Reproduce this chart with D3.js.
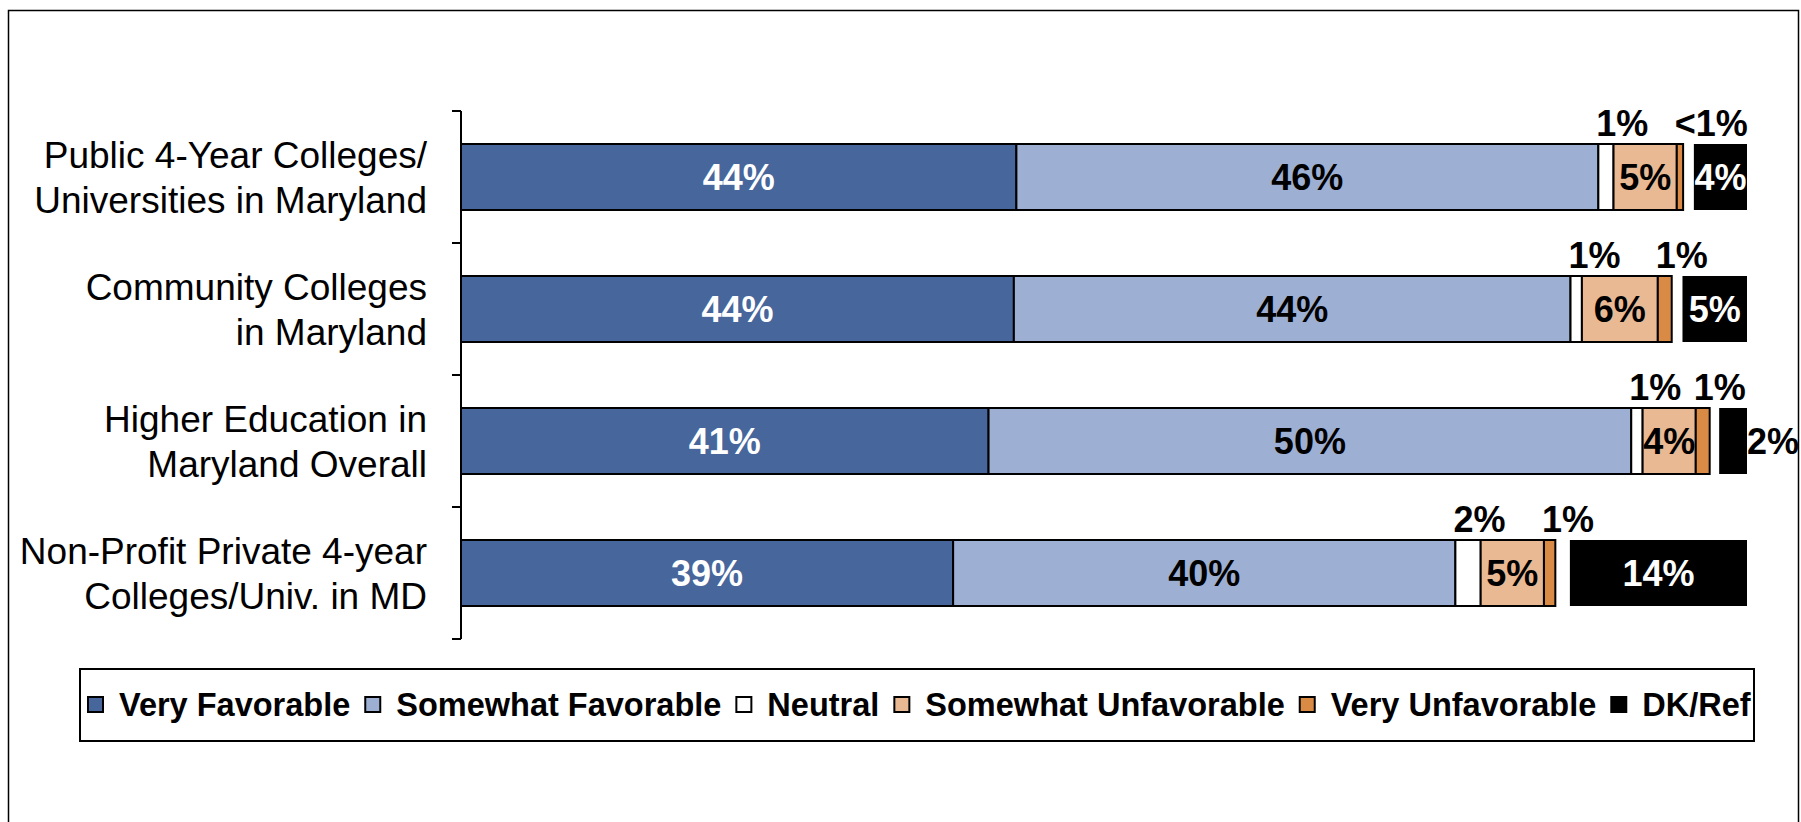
<!DOCTYPE html>
<html><head><meta charset="utf-8">
<script src="https://cdn.jsdelivr.net/npm/d3@7"></script>
<style>
html,body{margin:0;padding:0;background:#fff;}
svg{display:block;font-family:Arial,"Liberation Sans",Helvetica,sans-serif;}
</style>
</head><body>
<svg id="chart" width="1801" height="822"></svg>
<script>
// ---------- DATA ----------
const categories = [
  "Public 4-Year Colleges/|Universities in Maryland",
  "Community Colleges|in Maryland",
  "Higher Education in|Maryland Overall",
  "Non-Profit Private 4-year|Colleges/Univ. in MD"
];
const seriesNames = ["Very Favorable", "Somewhat Favorable", "Neutral",
                     "Somewhat Unfavorable", "Very Unfavorable", "DK/Ref"];
const veryFavorable       = [43.9, 43.7, 41.7, 38.9];
const somewhatFavorable   = [46.0, 44.0, 50.8, 39.7];
const neutral             = [1.2, 0.9, 0.9, 2.0];
const somewhatUnfavorable = [5.0, 6.0, 4.2, 5.0];
const veryUnfavorable     = [0.5, 1.1, 1.1, 0.9];
const dkRef               = [4.2, 5.1, 2.2, 14.0];

const veryFavorableLabels       = ["44%", "44%", "41%", "39%"];
const somewhatFavorableLabels   = ["46%", "44%", "50%", "40%"];
const neutralLabels             = ["1%", "1%", "1%", "2%"];
const somewhatUnfavorableLabels = ["5%", "6%", "4%", "5%"];
const veryUnfavorableLabels     = ["<1%", "1%", "1%", "1%"];
const dkRefLabels               = ["4%", "5%", "2%", "14%"];

// ---------- SETUP ----------
const colors = ["#46669C", "#9DB0D4", "#FFFFFF", "#E9B993", "#D98A45", "#000000"];
const keys = ["vf", "sf", "n", "su", "vu"];
const rows = categories.map((c, i) => ({
  cat: c,
  vf: veryFavorable[i], sf: somewhatFavorable[i], n: neutral[i],
  su: somewhatUnfavorable[i], vu: veryUnfavorable[i], dk: dkRef[i],
  labels: {
    vf: veryFavorableLabels[i], sf: somewhatFavorableLabels[i], n: neutralLabels[i],
    su: somewhatUnfavorableLabels[i], vu: veryUnfavorableLabels[i], dk: dkRefLabels[i]
  }
}));

const W = 1801;
const svg = d3.select("#chart");
const axisX = 461, plotRight = 1747;
const scaleMax = 101.65;
const x = d3.scaleLinear().domain([0, scaleMax]).range([axisX, plotRight]);
const y = d3.scaleBand().domain(categories).range([111, 639])
  .paddingInner(0.5).paddingOuter(0.25);

// outer frame
svg.append("rect").attr("x", 8.5).attr("y", 10.5).attr("width", 1790).attr("height", 830)
  .attr("fill", "none").attr("stroke", "#000").attr("stroke-width", 1.5);

// stacked bars
const stacked = d3.stack().keys(keys)(rows);
const labelFont = 36;

stacked.forEach((layer, k) => {
  const g = svg.append("g");
  g.selectAll("rect").data(layer).join("rect")
    .attr("x", d => x(d[0]))
    .attr("y", d => y(d.data.cat))
    .attr("width", d => x(d[1]) - x(d[0]))
    .attr("height", y.bandwidth())
    .attr("fill", colors[k])
    .attr("stroke", "#000").attr("stroke-width", 2);
});

// DK/Ref bars, right-aligned at the scale end
svg.append("g").selectAll("rect").data(rows).join("rect")
  .attr("x", d => x(scaleMax - d.dk))
  .attr("y", d => y(d.cat))
  .attr("width", d => x(scaleMax) - x(scaleMax - d.dk))
  .attr("height", y.bandwidth())
  .attr("fill", colors[5]);

// labels
const lg = svg.append("g").attr("font-weight", "bold").attr("font-size", labelFont);
stacked.forEach((layer, k) => {
  const key = keys[k];
  layer.forEach(d => {
    const cy = y(d.data.cat) + y.bandwidth() / 2;
    const txt = d.data.labels[key];
    if (key === "n" || key === "vu") {
      lg.append("text").attr("x", x(d[0]) - 2).attr("y", y(d.data.cat) - 8)
        .attr("text-anchor", "start").attr("fill", "#000").text(txt);
    } else {
      lg.append("text").attr("x", (x(d[0]) + x(d[1])) / 2).attr("y", cy).attr("dy", "0.36em")
        .attr("text-anchor", "middle").attr("fill", key === "vf" ? "#fff" : "#000").text(txt);
    }
  });
});
rows.forEach(d => {
  const cy = y(d.cat) + y.bandwidth() / 2;
  const x0 = x(scaleMax - d.dk), x1 = x(scaleMax);
  const t = lg.append("text").attr("y", cy).attr("dy", "0.36em").text(d.labels.dk);
  const w = t.node().getComputedTextLength();
  if (w <= (x1 - x0) * 1.05) {
    t.attr("x", (x0 + x1) / 2).attr("text-anchor", "middle").attr("fill", "#fff");
  } else {
    t.attr("x", Math.min(x1 + 7, W - 2 - w)).attr("text-anchor", "start").attr("fill", "#000");
  }
});

// axis line + ticks at band boundaries
const ax = svg.append("g").attr("stroke", "#000").attr("stroke-width", 2);
const [r0, r1] = y.range();
ax.append("line").attr("x1", axisX).attr("x2", axisX).attr("y1", r0).attr("y2", r1);
d3.range(categories.length + 1).forEach(i => {
  const ty = r0 + i * y.step();
  ax.append("line").attr("x1", axisX - 9).attr("x2", axisX).attr("y1", ty).attr("y2", ty);
});

// category labels
const cg = svg.append("g").attr("font-size", 37).attr("fill", "#000").attr("text-anchor", "end");
categories.forEach(c => {
  const cy = y(c) + y.bandwidth() / 2;
  const lines = c.split("|");
  lines.forEach((ln, j) => {
    cg.append("text").attr("x", 427).attr("y", cy - 9.5 + j * 45).text(ln);
  });
});

// legend
svg.append("rect").attr("x", 80).attr("y", 669).attr("width", 1674).attr("height", 72)
  .attr("fill", "#fff").attr("stroke", "#000").attr("stroke-width", 2);
const leg = svg.append("g").attr("font-size", 32.5).attr("font-weight", "bold");
let lx = 88;
const ly = 705;
seriesNames.forEach((name, i) => {
  leg.append("rect").attr("x", lx).attr("y", ly - 8).attr("width", 15).attr("height", 15)
    .attr("fill", colors[i]).attr("stroke", "#000").attr("stroke-width", 2);
  const t = leg.append("text").attr("x", lx + 31).attr("y", ly).attr("dy", "0.35em").text(name);
  lx += 31 + t.node().getComputedTextLength() + 15;
});
</script>
</body></html>
